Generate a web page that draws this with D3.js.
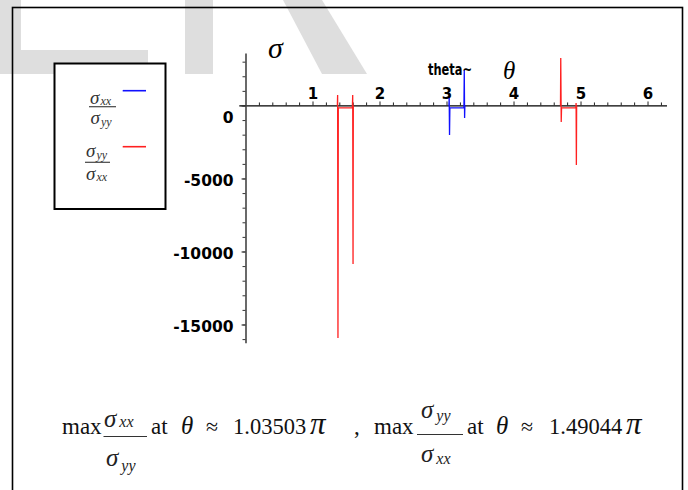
<!DOCTYPE html>
<html lang="en">
<head>
    <meta charset="UTF-8">
    <title>sigma ratio plot</title>
    <script type="text/javascript" src="https://d3js.org/d3.v7.min.js"></script>
    <style>
        body { margin: 0; background: #fff; }
    </style>
</head>
<body>
    <svg class="canvas"></svg>
    <script type="text/javascript">
        var svg_width = 688, svg_height = 490;

        // sigma_xx / sigma_yy  (blue) - only the part that leaves the axis
        var blueTheta = [3.036, 3.040, 3.045, 3.050, 3.260, 3.265, 3.270, 3.274];
        var blueSigma = [0, 514, -2020, -171, -171, 2430, -856, 0];
        // sigma_yy / sigma_xx  (red), null splits the two bursts
        var redTheta = [1.371, 1.375, 1.380, 1.385, 1.595, 1.600, 1.605, 1.609, 3.0,
                        4.701, 4.705, 4.712, 4.717, 4.930, 4.934, 4.938, 4.942];
        var redSigma = [0, 719, -15920, -171, -171, 719, -10856, 0, null,
                        0, 3253, -1130, -171, -171, 171, -4075, 0];

        var xTicks = [1, 2, 3, 4, 5, 6];
        var yTicks = [0, -5000, -10000, -15000];
        var maxAt = ['1.03503', '1.49044'];

        var svg = d3.select('svg').attr('width', svg_width).attr('height', svg_height);

        var xScale = d3.scaleLinear().domain([-0.1, 2 * Math.PI]).range([238.8, 666.5]),
            yScale = d3.scaleLinear().domain([3600, -16250]).range([52.9, 342.75]);

        // faint watermark shapes behind everything
        var wm = svg.append('g').attr('fill', '#dedede');
        wm.append('polygon').attr('points', '0,0 21,0 21,50 148,50 148,74 0,74');
        wm.append('rect').attr('x', 185).attr('y', 0).attr('width', 28).attr('height', 74);
        wm.append('polygon').attr('points', '283,0 322,0 367,74 322,74');

        // outer frame
        svg.append('rect').attr('x', 12.5).attr('y', 7.5).attr('width', 670).attr('height', 520)
            .attr('fill', 'none').attr('stroke', '#000').attr('stroke-width', 1.6);

        // x axis: minor ticks then labelled ones
        var minorX = d3.range(0.2, 6.25, 0.2).filter(function(v) { return Math.abs(v - Math.round(v)) > 0.01; });
        var x0 = yScale(0);
        svg.append('g')
            .attr('transform', 'translate(0,' + x0 + ')')
            .call(d3.axisTop(xScale).tickValues(minorX).tickSize(3).tickSizeOuter(0).tickFormat(''))
            .call(function(g) {
                g.select('.domain').attr('stroke', '#000').attr('stroke-width', 1.2);
                g.selectAll('.tick line').attr('stroke', '#222');
            });

        var xAx = svg.append('g')
            .attr('transform', 'translate(0,' + x0 + ')')
            .call(d3.axisTop(xScale).tickValues(xTicks).tickSize(4).tickPadding(2.5).tickFormat(function(d) { return String(d); }));
        xAx.select('.domain').remove();
        xAx.attr('font-family', null).attr('font-size', null);
        xAx.selectAll('.tick line').attr('stroke', '#222');
        xAx.selectAll('.tick text')
            .attr('font-family', 'DejaVu Sans').attr('font-weight', 'bold').attr('font-size', 15)
            .attr('fill', '#000');

        // y axis
        var minorY = d3.range(3000, -16001, -1000);
        var y0 = xScale(0);
        svg.append('g')
            .attr('transform', 'translate(' + y0 + ',0)')
            .call(d3.axisLeft(yScale).tickValues(minorY).tickSize(3).tickSizeOuter(0).tickFormat(''))
            .call(function(g) {
                g.select('.domain').attr('stroke', '#444').attr('stroke-width', 1.6);
                g.selectAll('.tick line').attr('stroke', '#333');
            });

        var yAx = svg.append('g')
            .attr('transform', 'translate(' + y0 + ',0)')
            .call(d3.axisLeft(yScale).tickValues(yTicks).tickSize(4).tickPadding(8).tickFormat(function(d) { return String(d); }));
        yAx.select('.domain').remove();
        yAx.attr('font-family', null).attr('font-size', null);
        yAx.selectAll('.tick line').attr('stroke', '#333');
        yAx.selectAll('.tick text')
            .attr('font-family', 'DejaVu Sans').attr('font-weight', 'bold').attr('font-size', 15.5)
            .attr('fill', '#000')
            .attr('dy', function(d) { return d === 0 ? '1.1em' : '0.45em'; });

        // curves on top of the axes
        var line = d3.line()
            .defined(function(d) { return d[1] !== null; })
            .x(function(d) { return xScale(d[0]); })
            .y(function(d) { return yScale(d[1]); });

        svg.append('path')
            .datum(d3.zip(blueTheta, blueSigma))
            .attr('d', line)
            .attr('fill', 'none')
            .attr('stroke', '#1010ff')
            .attr('stroke-width', 1.3);

        svg.append('path')
            .datum(d3.zip(redTheta, redSigma))
            .attr('d', line)
            .attr('fill', 'none')
            .attr('stroke', '#ff2020')
            .attr('stroke-width', 1.3);

        // axis titles
        svg.append('text').attr('x', 268).attr('y', 58)
            .attr('font-family', 'Liberation Serif').attr('font-style', 'italic').attr('font-size', 30)
            .text('σ');
        svg.append('text').attr('x', 428).attr('y', 75)
            .attr('font-family', 'DejaVu Sans').attr('font-weight', 'bold').attr('font-size', 15)
            .attr('textLength', 44).attr('lengthAdjust', 'spacingAndGlyphs')
            .text('theta~');
        svg.append('text').attr('x', 503).attr('y', 79)
            .attr('font-family', 'Liberation Serif').attr('font-style', 'italic').attr('font-size', 25)
            .text('θ');

        // sigma with an italic subscript
        var sigma = function(x, y, sub, fs, ss, dx, dy, col) {
            var t = svg.append('text').attr('x', x).attr('y', y)
                .attr('font-family', 'Liberation Serif').attr('font-style', 'italic')
                .attr('font-size', fs).attr('fill', col).text('σ');
            t.append('tspan').attr('font-size', ss).attr('dx', dx).attr('dy', dy).text(sub);
        };
        var bar = function(x1, x2, y, col) {
            svg.append('line').attr('x1', x1).attr('x2', x2).attr('y1', y).attr('y2', y)
                .attr('stroke', col).attr('stroke-width', 1.2);
        };

        // legend
        svg.append('rect').attr('x', 54.5).attr('y', 63.5).attr('width', 111).attr('height', 145.5)
            .attr('fill', '#fff').attr('stroke', '#000').attr('stroke-width', 2);
        sigma(90, 104, 'xx', 19, 12, 1, 1, '#333');
        bar(89, 116, 106.7, '#444');
        sigma(90.5, 124, 'yy', 19, 12, 1, 2, '#333');
        svg.append('line').attr('x1', 122.7).attr('x2', 146).attr('y1', 90.7).attr('y2', 90.7)
            .attr('stroke', '#1010ff').attr('stroke-width', 1.6);

        sigma(86, 157, 'yy', 19, 12, 1, 2, '#333');
        bar(85, 110, 162.3, '#444');
        sigma(86, 180, 'xx', 19, 12, 1, 1, '#333');
        svg.append('line').attr('x1', 122.7).attr('x2', 146).attr('y1', 146.7).attr('y2', 146.7)
            .attr('stroke', '#ff2020').attr('stroke-width', 1.6);

        // bottom equation
        var word = function(x, y, s, fs, italic) {
            return svg.append('text').attr('x', x).attr('y', y)
                .attr('font-family', 'Liberation Serif').attr('font-size', fs)
                .attr('font-style', italic ? 'italic' : 'normal')
                .attr('fill', '#111').text(s);
        };
        var base = 434;
        word(62, base, 'max', 23);
        sigma(104, 427, 'xx', 25, 16, 3, 0, '#222');
        bar(103.5, 147, 436.5, '#333');
        sigma(106, 466, 'yy', 25, 16, 3, 5, '#222');
        word(151, base, 'at', 23);
        word(181, base, 'θ', 25, true);
        word(206, base, '≈', 22);
        word(233, base, maxAt[0], 22.5);
        word(310, base, 'π', 31, true);
        word(354, base, ',', 23);

        word(374, base, 'max', 23);
        sigma(421, 418, 'yy', 25, 16, 3, 3, '#222');
        bar(417, 463, 434.5, '#333');
        sigma(421, 462, 'xx', 25, 16, 3, 2, '#222');
        word(467, base, 'at', 23);
        word(496, base, 'θ', 25, true);
        word(521, base, '≈', 22);
        word(549, base, maxAt[1], 22.5);
        word(626, base, 'π', 31, true);
    </script>
</body>
</html>
